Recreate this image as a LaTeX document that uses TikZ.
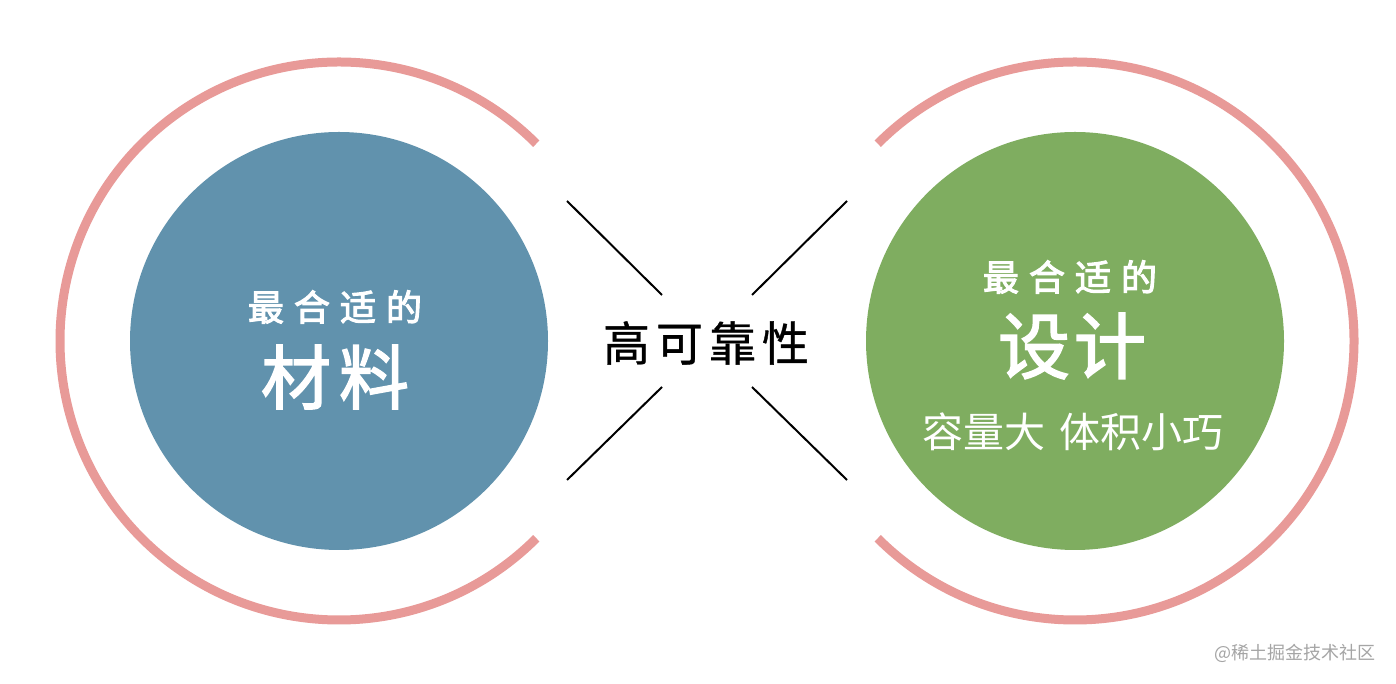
\documentclass[tikz,border=0pt]{standalone}
\usepackage{fontspec}
\usetikzlibrary{calc}
\newfontfamily\cjk{Noto Sans CJK SC}
\newfontfamily\cjkfb[FakeBold=2.2]{Noto Sans CJK SC}
\newfontfamily\cjksb[FakeBold=3]{Noto Sans CJK SC}
\newfontfamily\cjkmb[FakeBold=0.8]{Noto Sans CJK SC}
\definecolor{ringC}{RGB}{232,154,152}
\definecolor{blueC}{RGB}{97,146,173}
\definecolor{greenC}{RGB}{127,173,96}
\definecolor{markC}{RGB}{165,165,165}
\tikzset{
  ring/.style={draw=ringC, line width=9pt},
  disc/.style={circle, minimum size=418pt, inner sep=0pt, draw=none},
  wtxt/.style={text=white, inner sep=0pt, font=\cjk},
  xline/.style={draw=black, line width=2pt},
}
\begin{document}
\begin{tikzpicture}[x=1pt,y=1pt]
\useasboundingbox (0,0) rectangle (1396,684);
\fill[white] (0,0) rectangle (1396,684);
% rings
\coordinate (cl) at (339,343);
\coordinate (cr) at (1075,343);
\draw[ring] ($(cl)+(45:279)$) arc[start angle=45, end angle=315, radius=279];
\draw[ring] ($(cr)+(-135:279)$) arc[start angle=-135, end angle=135, radius=279];
% discs
\node[disc, fill=blueC] (L) at (cl) {};
\node[disc, fill=greenC] (R) at (cr) {};
% X lines
\coordinate (a1) at (567,483); \coordinate (a2) at (662,389);
\coordinate (b1) at (847,483); \coordinate (b2) at (752,389);
\coordinate (c1) at (662,297); \coordinate (c2) at (567,204);
\coordinate (d1) at (752,297); \coordinate (d2) at (847,204);
\draw[xline] (a1) -- (a2);
\draw[xline] (b1) -- (b2);
\draw[xline] (c1) -- (c2);
\draw[xline] (d1) -- (d2);
% texts
\node[wtxt, font=\cjksb\fontsize{36}{40}\selectfont] (l1) at (335,377) {最\kern10pt 合\kern10pt 适\kern10pt 的};
\node[wtxt, font=\cjkfb\fontsize{70}{76}\selectfont] (l2) at (335,307) {材\kern8pt 料};
\node[wtxt, font=\cjksb\fontsize{36}{40}\selectfont] (r1) at (1070,407) {最\kern10pt 合\kern10pt 适\kern10pt 的};
\node[wtxt, font=\cjkfb\fontsize{72}{78}\selectfont] (r2) at (1072,338) {设\kern4pt 计};
\node[wtxt, font=\cjk\fontsize{41}{46}\selectfont] (r3) at (1073,252) {容量大\kern15pt 体积小巧};
\node[inner sep=0pt, text=black, font=\cjkmb\fontsize{47}{52}\selectfont] (mid) at (706,341) {高\kern6pt 可\kern6pt 靠\kern6pt 性};
\node[inner sep=0pt, anchor=east, text=markC, font=\cjk\fontsize{18}{20}\selectfont] (wm) at (1376,31) {@稀土掘金技术社区};
\end{tikzpicture}
\end{document}
